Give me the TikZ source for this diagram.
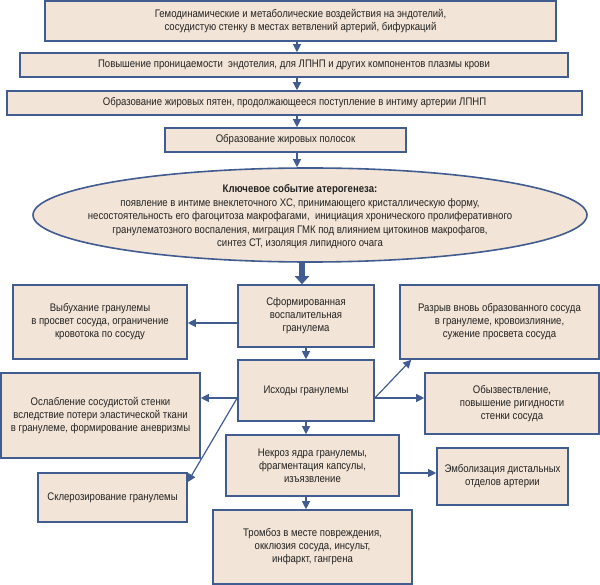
\documentclass[tikz,border=0pt]{standalone}
\usepackage{fontspec}
\setmainfont[FakeStretch=0.87]{Liberation Sans}
\usetikzlibrary{arrows.meta,shapes.geometric}
\definecolor{boxfill}{RGB}{242,228,214}
\definecolor{boxline}{RGB}{64,92,145}
\definecolor{txt}{RGB}{35,35,35}
\begin{document}
\begin{tikzpicture}[x=1pt,y=-1pt,
  box/.style={draw=boxline,line width=1.6pt,fill=boxfill,align=center,inner sep=0pt,text=txt,font=\fontsize{11}{13}\selectfont},
  arr/.style={draw=boxline,line width=1.2pt,-{Triangle[length=8pt,width=8pt]}},
  fat/.style={draw=boxline,line width=6pt,-{Triangle[length=8pt,width=14pt]}}]
\useasboundingbox (0,0) rectangle (600,585);
\coordinate (X) at (297,0);
\coordinate (Y) at (302,0);

\node[box,minimum width=511pt,minimum height=40pt] (A) at (300.5,21) {Гемодинамические и метаболические воздействия на эндотелий,\\ сосудистую стенку в местах ветвлений артерий, бифуркаций};
\node[box,minimum width=548pt,minimum height=24pt] (B) at (294,65) {Повышение проницаемости\ \ эндотелия, для ЛПНП и других компонентов плазмы крови};
\node[box,minimum width=575pt,minimum height=24pt] (C) at (294.5,103) {Образование жировых пятен, продолжающееся поступление в интиму артерии ЛПНП};
\node[box,minimum width=241pt,minimum height=24pt] (D) at (285.5,140) {Образование жировых полосок};
\node[box,ellipse,minimum width=554pt,minimum height=94pt] (E) at (310,215) {};
\node[align=center,text=txt,font=\fontsize{11}{13.5}\selectfont] (T) at (300,217) {\textbf{Ключевое событие атерогенеза:}\\ появление в интиме внеклеточного ХС, принимающего кристаллическую форму,\\ несостоятельность его фагоцитоза макрофагами,\ \ инициация хронического пролиферативного\\ гранулематозного воспаления, миграция ГМК под влиянием цитокинов макрофагов,\\ синтез СТ, изоляция липидного очага};

\node[box,minimum width=136pt,minimum height=62pt] (F) at (306,316) {Сформированная\\ воспалительная\\ гранулема};
\node[box,minimum width=174pt,minimum height=74pt] (G) at (100,322) {Выбухание гранулемы\\ в просвет сосуда, ограничение\\ кровотока по сосуду};
\node[box,minimum width=199pt,minimum height=74pt] (J) at (499.5,322) {Разрыв вновь образованного сосуда\\ в гранулеме, кровоизлияние,\\ сужение просвета сосуда};
\node[box,minimum width=136pt,minimum height=61pt] (H) at (306,390.5) {Исходы гранулемы};
\node[box,minimum width=199pt,minimum height=85pt] (I) at (100.5,415.5) {Ослабление сосудистой стенки\\ вследствие потери эластической ткани\\ в гранулеме, формирование аневризмы};
\node[box,minimum width=174pt,minimum height=61pt] (K) at (512,403.5) {Обызвествление,\\ повышение ригидности\\ стенки сосуда};
\node[box,minimum width=173pt,minimum height=61pt] (M) at (312.5,465.5) {Некроз ядра гранулемы,\\ фрагментация капсулы,\\ изъязвление};
\node[box,minimum width=149pt,minimum height=49pt] (L) at (112.5,497.5) {Склерозирование гранулемы};
\node[box,minimum width=131pt,minimum height=57pt] (P) at (502.5,476.5) {Эмболизация дистальных\\ отделов артерии};
\node[box,minimum width=199pt,minimum height=74pt] (O) at (312.5,547) {Тромбоз в месте повреждения,\\ окклюзия сосуда, инсульт,\\ инфаркт, гангрена};

\draw[arr] (A.south -| X) -- (B.north -| X);
\draw[arr] (B.south -| X) -- (C.north -| X);
\draw[arr] (C.south -| X) -- (D.north -| X);
\draw[arr] (D.south -| X) -- (E.north -| X);
\draw[fat] (E.south -| Y) -- (F.north -| Y);

\draw[arr] ([yshift=-7pt]F.west) -- ([yshift=-7pt]F.west -| G.east);
\draw[arr] (F) -- (H);
\draw[arr] ([yshift=-7.5pt]H.west) -- ([yshift=-7.5pt]H.west -| I.east);
\draw[arr] ([yshift=-7.5pt]H.west) -- ([yshift=15.5pt]L.east);
\draw[arr] ([yshift=-7.5pt]H.east) -- ([xshift=12pt]J.south west);
\draw[arr] ([yshift=-7.5pt]H.east) -- ([yshift=-7.5pt]H.east -| K.west);
\draw[arr] (H.south) -- (H.south |- M.north);
\draw[arr] ([yshift=-7.5pt]M.east) -- ([yshift=-7.5pt]M.east -| P.west);
\draw[arr] (M.south -| H) -- (O.north -| H);
\end{tikzpicture}
\end{document}
